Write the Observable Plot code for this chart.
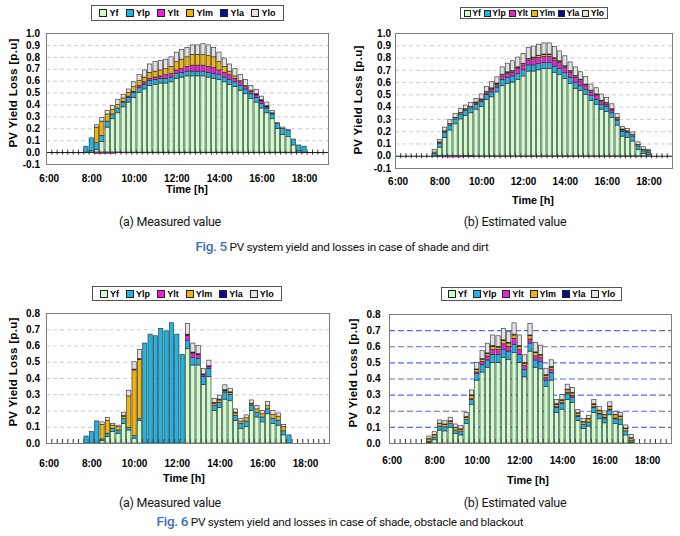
<!DOCTYPE html>
<html>
<head>
<meta charset="utf-8">
<script src="https://cdn.jsdelivr.net/npm/d3@7"></script>
<script src="https://cdn.jsdelivr.net/npm/@observablehq/plot@0.6"></script>
<style>
  body { margin: 0; background: #fff; }
  #fig { position: relative; width: 680px; height: 536px; overflow: hidden; background: #fff; }
  .panel { position: absolute; }
  .legend { position: absolute; box-sizing: border-box; border: 1px solid #555; background: #fff;
            display: flex; align-items: center; justify-content: space-evenly;
            font: bold 9px "Liberation Sans", Arial, sans-serif; color: #000; }
  .legend.tight { font-size: 8.6px; }
  .legend .it { display: inline-flex; align-items: center; white-space: nowrap; }
  .legend i { display: inline-block; width: 6px; height: 6px; border: 1px solid #222; margin-right: 2px; }
  .legend.tight i { width: 5px; height: 5px; margin-right: 1.5px; }
  .lbl { position: absolute; white-space: nowrap; transform: translate(-50%, -50%); }
  .ytitle { font: bold 11.5px "Liberation Sans", Arial, sans-serif; letter-spacing: 0.3px; transform: translate(-50%, -50%) rotate(-90deg); }
  .xtitle { font: bold 10.8px "Liberation Sans", Arial, sans-serif; }
  .sub { font: 12.5px Roboto, sans-serif; color: #151515; letter-spacing: -0.25px; }
  .cap { font: 11.8px Roboto, sans-serif; color: #151515; letter-spacing: -0.3px; }
  .cap b { color: #3d6fb6; font-weight: 500; font-size: 13.5px; }
</style>
</head>
<body>
<div id="fig"></div>
<script>
// Loss components of the PV system yield, in stacking order (bottom to top)
const seriesNames  = ["Yf", "Ylp", "Ylt", "Ylm", "Yla", "Ylo"];
const seriesColors = ["#ccffcc", "#1eb4e4", "#ee1ee0", "#f0b40a", "#0a0a96", "#e2e2e2"];

// Time axis labels
const xTickHours  = [6, 8, 10, 12, 14, 16, 18];
const xTickLabels = ["6:00", "8:00", "10:00", "12:00", "14:00", "16:00", "18:00"];
const yTicksFig5 = [-0.1, 0, 0.1, 0.2, 0.3, 0.4, 0.5, 0.6, 0.7, 0.8, 0.9, 1.0];
const yTicksFig6 = [0, 0.1, 0.2, 0.3, 0.4, 0.5, 0.6, 0.7, 0.8];

// Fig. 5 : shade and dirt (15-minute samples)
const timesFig5 = ["7:45","8:00","8:15","8:30","8:45","9:00","9:15","9:30","9:45","10:00","10:15","10:30","10:45",
  "11:00","11:15","11:30","11:45","12:00","12:15","12:30","12:45","13:00","13:15","13:30","13:45","14:00","14:15",
  "14:30","14:45","15:00","15:15","15:30","15:45","16:00","16:15","16:30","16:45","17:00","17:15","17:30","17:45","18:00"];

// (a) measured
const mYf5  = [0,0.01,0.02,0.09,0.21,0.28,0.33,0.38,0.42,0.46,0.50,0.53,0.56,0.57,0.58,0.58,0.59,0.62,0.63,0.64,0.64,0.64,
  0.64,0.63,0.62,0.61,0.59,0.57,0.55,0.52,0.49,0.45,0.42,0.37,0.33,0.28,0.20,0.15,0.13,0.06,0.01,0];
const mYlp5 = [0.05,0.11,0.06,0.05,0.05,0.04,0.04,0.04,0.04,0.04,0.04,0.04,0.04,0.04,0.04,0.04,0.04,0.04,0.04,0.04,0.04,
  0.04,0.04,0.04,0.04,0.04,0.04,0.04,0.04,0.04,0.04,0.04,0.04,0.04,0.04,0.04,0.04,0.05,0.05,0.05,0.05,0.05];
const mYlt5 = [0,0,-0.01,-0.01,-0.01,-0.01,-0.005,0.005,0.01,0.01,0.02,0.02,0.02,0.02,0.02,0.03,0.03,0.03,0.03,0.04,0.05,
  0.05,0.05,0.05,0.05,0.04,0.04,0.04,0.03,0.03,0.02,0.02,0.02,0.02,0.01,0.005,0,0,0,0,0,0];
const mYlm5 = [0,0,0.13,0.12,0.06,0.04,0.03,0.03,0.03,0.04,0.04,0.04,0.05,0.05,0.05,0.05,0.06,0.07,0.08,0.08,0.09,0.09,
  0.09,0.09,0.09,0.07,0.05,0.03,0.02,0.01,0.01,0.01,0.005,0.005,0.005,0.005,0,0,0,0,0,0];
const mYla5 = [0,0,0,0,0,0,0,0,0,0,0,0,0,0,0,0,0,0,0,0,0,0,0,0,0,0,0,0,0,0,0,0,0.005,0.005,0.005,0,0,0,0,0,0,0];
const mYlo5 = [0,0,0.02,0.03,0.03,0.03,0.04,0.03,0.03,0.04,0.05,0.06,0.07,0.08,0.08,0.08,0.08,0.08,0.08,0.08,0.08,0.08,
  0.09,0.09,0.08,0.08,0.07,0.06,0.06,0.05,0.05,0.04,0.035,0.03,0.03,0.02,0.01,0.01,0.01,0,0,0];

// (b) estimated
const eYf5  = [0,0.07,0.15,0.21,0.26,0.30,0.33,0.35,0.38,0.40,0.46,0.48,0.52,0.57,0.59,0.60,0.62,0.65,0.69,0.69,0.70,0.71,
  0.71,0.68,0.66,0.63,0.59,0.55,0.53,0.50,0.45,0.42,0.38,0.36,0.31,0.25,0.16,0.15,0.12,0.05,0.02,0.01];
const eYlp5 = [0.02,0.03,0.04,0.04,0.04,0.04,0.04,0.04,0.04,0.04,0.04,0.04,0.04,0.05,0.05,0.05,0.05,0.05,0.05,0.05,0.05,
  0.05,0.05,0.05,0.05,0.05,0.05,0.05,0.04,0.04,0.04,0.04,0.04,0.04,0.04,0.04,0.04,0.04,0.04,0.03,0.02,0.02];
const eYlt5 = [0,-0.005,-0.01,-0.01,-0.01,-0.01,-0.008,-0.005,0.005,0.01,0.01,0.02,0.02,0.03,0.03,0.03,0.04,0.04,0.04,0.05,
  0.05,0.05,0.05,0.05,0.05,0.04,0.04,0.04,0.04,0.03,0.03,0.03,0.02,0.02,0.02,0.01,0.005,0,0,0,0,0];
const eYlm5 = [0.01,0.01,0.01,0.01,0.01,0.01,0.01,0.01,0.01,0.01,0.01,0.01,0.01,0.01,0.01,0.01,0.01,0.01,0.01,0.01,
  0.015,0.015,0.015,0.015,0.01,0.01,0.01,0.01,0.01,0.01,0.01,0.01,0.01,0.01,0.01,0.01,0.01,0.01,0.01,0.01,0.01,0.01];
const eYla5 = [0,0.003,0.003,0.003,0.003,0.003,0.003,0.003,0.003,0.003,0.003,0.003,0.003,0.004,0.004,0.004,0.004,0.004,
  0.004,0.004,0.004,0.004,0.004,0.004,0.004,0.004,0.004,0.004,0.004,0.004,0.004,0.004,0.003,0.003,0.003,0.003,0.003,
  0.003,0.003,0.003,0.003,0.003];
const eYlo5 = [0.02,0.02,0.03,0.03,0.03,0.03,0.03,0.03,0.03,0.04,0.04,0.05,0.05,0.06,0.07,0.08,0.08,0.08,0.09,0.09,0.09,
  0.09,0.09,0.09,0.08,0.08,0.07,0.07,0.06,0.06,0.05,0.05,0.05,0.04,0.04,0.03,0.02,0.02,0.02,0.02,0.02,0.01];

// Fig. 6 : shade, obstacle and blackout
const timesFig6 = ["7:45","8:00","8:15","8:30","8:45","9:00","9:15","9:30","9:45","10:00","10:15","10:30","10:45",
  "11:00","11:15","11:30","11:45","12:00","12:15","12:30","12:45","13:00","13:15","13:30","13:45","14:00","14:15",
  "14:30","14:45","15:00","15:15","15:30","15:45","16:00","16:15","16:30","16:45","17:00","17:15"];

// (a) measured
const mYf6  = [0,0,0,0.015,0.04,0.07,0.06,0.12,0.08,0.03,0.14,0,0,0,0,0,0,0,0,0.58,0.48,0.48,0.36,0.41,0.20,0.22,0.27,
  0.26,0.14,0.09,0.10,0.20,0.16,0.13,0.18,0.12,0.11,0.05,0];
const mYlp6 = [0.043,0.07,0.136,0.01,0.02,0.02,0.02,0.03,0.015,0.015,0.01,0.615,0.67,0.66,0.705,0.69,0.74,0.67,0.545,
  0.05,0.045,0.04,0.05,0.05,0.03,0.03,0.04,0.04,0.03,0.03,0.035,0.03,0.03,0.03,0.03,0.03,0.03,0.025,0.05];
const mYlt6 = [0,0,0,0,0,0,0,0,0,0,0,0,0,0,0,0,0,0,0,0.03,0.025,0.025,0.01,0.01,0,0,0,0,0,0,0,0,0,0,0,0,0,0,0];
const mYlm6 = [0,0,0,0.09,0.08,0.02,0.02,0.015,0.195,0.405,0.365,0,0,0,0,0,0,0,0,0.005,0.005,0,0,0,0.015,0.015,0.01,
  0.01,0.015,0.015,0.02,0.01,0.02,0.02,0.02,0.025,0.025,0.025,0];
const mYla6 = [0,0,0,0,0,0,0,0.005,0,0.005,0.005,0,0,0,0,0,0,0,0,0.005,0.005,0.005,0.005,0.005,0.005,0.005,0.008,
  0.005,0.005,0,0,0.005,0,0,0,0,0,0,0];
const mYlo6 = [0,0,0,0.015,0.016,0.01,0.01,0.017,0.035,0.045,0.055,0,0,0,0,0,0,0,0,0.065,0.055,0.05,0.035,0.035,0.025,
  0.025,0.03,0.022,0.02,0.017,0.018,0.02,0.02,0.02,0.025,0.025,0.02,0.015,0];

// (b) estimated
const eYf6  = [0.005,0.02,0.08,0.075,0.095,0.06,0.05,0.12,0.24,0.39,0.44,0.47,0.50,0.50,0.53,0.52,0.56,0.50,0.41,0.57,
  0.47,0.46,0.35,0.39,0.19,0.21,0.27,0.25,0.14,0.09,0.105,0.19,0.15,0.125,0.175,0.12,0.115,0.05,0.005];
const eYlp6 = [0.005,0.015,0.025,0.025,0.025,0.02,0.02,0.025,0.03,0.04,0.045,0.045,0.05,0.05,0.05,0.05,0.05,0.05,0.045,
  0.05,0.045,0.045,0.04,0.045,0.03,0.035,0.035,0.035,0.025,0.025,0.025,0.03,0.03,0.03,0.03,0.03,0.03,0.025,0.01];
const eYlt6 = [0,0,0,0,0,0,0,0,0.005,0.01,0.02,0.025,0.03,0.03,0.035,0.03,0.04,0.03,0.025,0.025,0.025,0.025,0.015,0.02,
  0.005,0.005,0.01,0.01,0.005,0,0,0.005,0.005,0.005,0.005,0.005,0,0,0];
const eYlm6 = [0.015,0.015,0.015,0.015,0.015,0.015,0.015,0.015,0.02,0.015,0.015,0.015,0.02,0.015,0.02,0.02,0.02,0.02,
  0.015,0.02,0.02,0.015,0.015,0.015,0.015,0.015,0.015,0.015,0.015,0.015,0.02,0.015,0.015,0.015,0.015,0.02,0.02,0.015,0.015];
const eYla6 = [0.003,0.003,0.003,0.003,0.003,0.003,0.003,0.004,0.004,0.004,0.004,0.004,0.005,0.005,0.005,0.005,0.005,
  0.005,0.005,0.005,0.005,0.005,0.004,0.005,0.004,0.004,0.004,0.004,0.003,0.003,0.003,0.004,0.004,0.003,0.004,0.003,
  0.003,0.003,0.003];
const eYlo6 = [0.015,0.017,0.02,0.02,0.022,0.02,0.02,0.025,0.03,0.04,0.05,0.06,0.065,0.065,0.07,0.065,0.07,0.065,0.047,
  0.07,0.059,0.057,0.04,0.041,0.026,0.031,0.031,0.03,0.019,0.02,0.019,0.026,0.022,0.021,0.026,0.019,0.021,0.019,0.021];

// ---- drawing ----
const fig = document.getElementById("fig");
const xDomain = [5.875, 19.125];               // one 15-minute slot per category, 6:00 .. 19:00
const slotEdges = d3.range(5.875, 19.13, 0.25); // category tick marks on the zero line
const toHour = s => { const [h, m] = s.split(":").map(Number); return h + m / 60; };

function addDiv(cls, html, x, y) {
  const d = document.createElement("div");
  d.className = cls;
  d.innerHTML = html;
  d.style.left = x + "px";
  d.style.top = y + "px";
  fig.appendChild(d);
  return d;
}

function addLegend(box) {
  const d = document.createElement("div");
  d.className = "legend" + (box.tight ? " tight" : "");
  Object.assign(d.style, {left: box.x + "px", top: box.y + "px", width: box.w + "px", height: box.h + "px"});
  seriesNames.forEach((name, i) => {
    const it = document.createElement("span");
    it.className = "it";
    it.innerHTML = `<i style="background:${seriesColors[i]}"></i>${name}`;
    d.appendChild(it);
  });
  fig.appendChild(d);
}

function drawPanel(cfg) {
  const rows = [];
  cfg.series.forEach((vals, s) => vals.forEach((v, i) => {
    if (v !== 0) rows.push({t: toHour(cfg.times[i]), series: seriesNames[s], value: v});
  }));
  const svg = Plot.plot({
    width: 340, height: cfg.height,
    marginTop: cfg.mt, marginBottom: cfg.mb, marginLeft: cfg.ml, marginRight: cfg.mr,
    x: {domain: xDomain},
    y: {domain: cfg.yDomain},
    color: {domain: seriesNames, range: seriesColors},
    style: {fontFamily: "'Liberation Sans', Arial, sans-serif", fontSize: "10px", fontWeight: "bold",
            color: "#000", background: "transparent"},
    marks: [
      Plot.ruleY(cfg.grid, {stroke: cfg.gridColor, strokeWidth: cfg.gridWidth, strokeDasharray: cfg.dash}),
      Plot.ruleX(slotEdges, {x: d => d, y1: 0, y2: 0, insetTop: cfg.tickUp, insetBottom: cfg.tickDown,
                             stroke: "#333", strokeWidth: 1}),
      cfg.zeroLine ? Plot.ruleY([0], {stroke: "#111", strokeWidth: 1}) : null,
      Plot.rectY(rows, {x1: d => d.t - 0.125, x2: d => d.t + 0.125, y: "value", fill: "series",
                        stroke: "#262626", strokeWidth: 0.6, insetLeft: 0.55, insetRight: 0.55}),
      Plot.frame({stroke: "#7d7d7d"}),
      Plot.axisY(cfg.yTicks, {tickSize: 0, tickPadding: cfg.ypad, tickFormat: d => d.toFixed(1), label: null}),
      Plot.axisX(xTickHours, {tickSize: 0, tickPadding: cfg.xpad,
                              tickFormat: d => xTickLabels[xTickHours.indexOf(d)], label: null})
    ]
  });
  const wrap = document.createElement("div");
  wrap.className = "panel";
  wrap.style.left = cfg.left + "px";
  wrap.style.top = cfg.top + "px";
  wrap.appendChild(svg);
  fig.appendChild(wrap);
  addDiv("lbl ytitle", "PV Yield Loss [p.u]", cfg.yTitle[0], cfg.yTitle[1]);
  addDiv("lbl xtitle", "Time [h]", cfg.xTitle[0], cfg.xTitle[1]);
}

const fig5Grid = [0.1, 0.2, 0.3, 0.4, 0.5, 0.6, 0.7, 0.8, 0.9];
const fig6Grid = [0.1, 0.2, 0.3, 0.4, 0.5, 0.6, 0.7];
const lightGrid = {gridColor: "#c8cce0", gridWidth: 1, dash: "4,3"};

drawPanel({left: 0, top: 25, height: 165, mt: 8, mb: 26, ml: 46, mr: 12, xpad: 10, ypad: 6.5,
  yDomain: [-0.1, 1.0], yTicks: yTicksFig5, grid: fig5Grid, ...lightGrid, zeroLine: true, tickUp: -2.5, tickDown: -2.5,
  times: timesFig5, series: [mYf5, mYlp5, mYlt5, mYlm5, mYla5, mYlo5], yTitle: [12.5, 93], xTitle: [187, 189]});

drawPanel({left: 340, top: 25, height: 165, mt: 8, mb: 22, ml: 55, mr: 8, xpad: 9, ypad: 4.5,
  yDomain: [-0.1, 1.0], yTicks: yTicksFig5, grid: fig5Grid, ...lightGrid, zeroLine: true, tickUp: -2.5, tickDown: -2.5,
  times: timesFig5, series: [eYf5, eYlp5, eYlt5, eYlm5, eYla5, eYlo5], yTitle: [358, 100], xTitle: [533, 200]});

drawPanel({left: 0, top: 305, height: 165, mt: 8, mb: 27, ml: 46, mr: 11, xpad: 16.5, ypad: 6.5,
  yDomain: [0, 0.8], yTicks: yTicksFig6, grid: fig6Grid, ...lightGrid, zeroLine: false, tickUp: -4, tickDown: 0,
  times: timesFig6, series: [mYf6, mYlp6, mYlt6, mYlm6, mYla6, mYlo6], yTitle: [13, 372], xTitle: [184, 478]});

drawPanel({left: 340, top: 305, height: 165, mt: 9, mb: 27, ml: 49, mr: 9, xpad: 13, ypad: 9,
  yDomain: [0, 0.8], yTicks: yTicksFig6, grid: fig6Grid, gridColor: "#5a6ae0", gridWidth: 1.1, dash: "6,3",
  zeroLine: false, tickUp: -4, tickDown: 0,
  times: timesFig6, series: [eYf6, eYlp6, eYlt6, eYlm6, eYla6, eYlo6], yTitle: [353, 373], xTitle: [528, 479.5]});

addLegend({x: 91, y: 5, w: 193, h: 16});
addLegend({x: 460, y: 7, w: 148, h: 12, tight: true});
addLegend({x: 92, y: 286, w: 190, h: 15});
addLegend({x: 441, y: 287, w: 181, h: 14});

addDiv("lbl sub", "(a) Measured value", 170, 221);
addDiv("lbl sub", "(b) Estimated value", 515, 221);
addDiv("lbl cap", "<b>Fig. 5</b> PV system yield and losses in case of shade and dirt", 342, 246);
addDiv("lbl sub", "(a) Measured value", 170, 502);
addDiv("lbl sub", "(b) Estimated value", 515, 502);
addDiv("lbl cap", "<b>Fig. 6</b> PV system yield and losses in case of shade, obstacle and blackout", 340, 521);
</script>
</body>
</html>
